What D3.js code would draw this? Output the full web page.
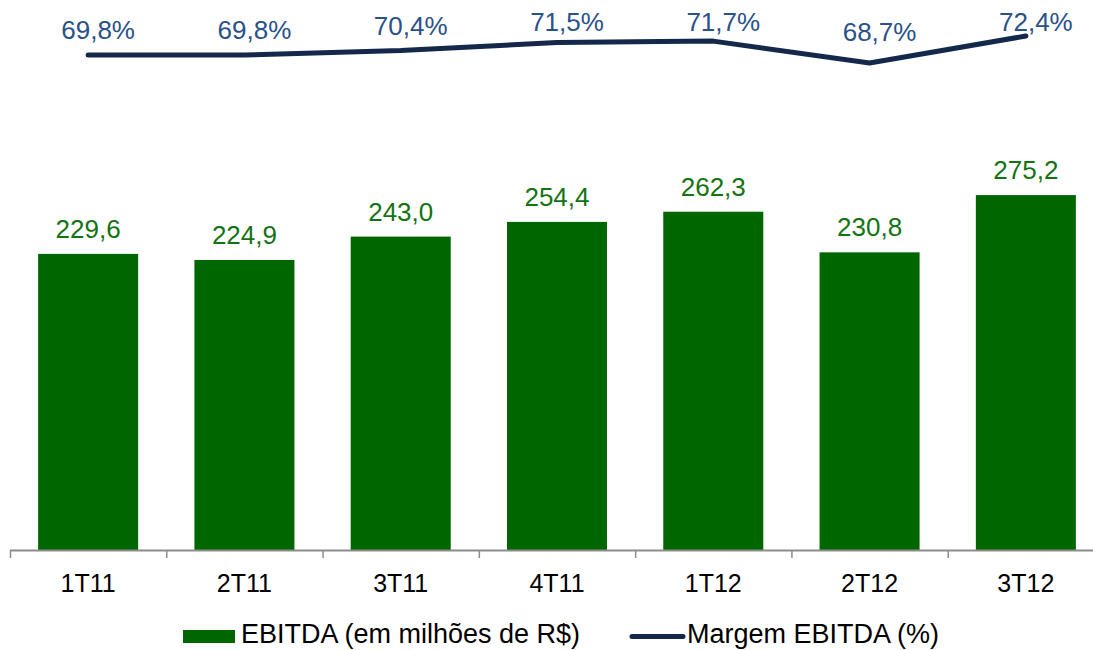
<!DOCTYPE html>
<html>
<head>
<meta charset="utf-8">
<script src="https://cdn.jsdelivr.net/npm/d3@7"></script>
<style>
  body { margin: 0; background: #fff; }
  svg { font-family: "Liberation Sans", Arial, sans-serif; }
</style>
</head>
<body>
<div id="chart"></div>
<script>
var quarters = ["1T11", "2T11", "3T11", "4T11", "1T12", "2T12", "3T12"];
var ebitda = [229.6, 224.9, 243.0, 254.4, 262.3, 230.8, 275.2];
var margem = [69.8, 69.8, 70.4, 71.5, 71.7, 68.7, 72.4];
var legend_labels = ["EBITDA (em milhões de R$)", "Margem EBITDA (%)"];

var width = 1093, height = 650;
var fmt = d => d.toFixed(1).replace(".", ",");

var svg = d3.select("#chart").append("svg")
    .attr("width", width)
    .attr("height", height);

var x = d3.scaleBand(quarters, [10, 1104]).paddingInner(0.36).paddingOuter(0.18);
var y = d3.scaleLinear([0, 300], [550, 163.1]);
var y2 = d3.scaleLinear([68.7, 72.4], [63, 36]);

// bars
svg.selectAll(".bar")
    .data(quarters)
    .enter().append("rect")
    .attr("class", "bar")
    .attr("x", d => x(d))
    .attr("y", (d, i) => y(ebitda[i]))
    .attr("width", x.bandwidth())
    .attr("height", (d, i) => y(0) - y(ebitda[i]))
    .style("fill", "#006600");

svg.selectAll(".barlabel")
    .data(quarters)
    .enter().append("text")
    .attr("class", "barlabel")
    .attr("x", d => x(d) + x.bandwidth() / 2)
    .attr("y", (d, i) => y(ebitda[i]) - 16)
    .attr("text-anchor", "middle")
    .style("font-size", "26px")
    .style("fill", "#137313")
    .text((d, i) => fmt(ebitda[i]));

// axis
var step = x.step();
var axis = svg.append("g");
axis.append("line")
    .attr("x1", 10).attr("x2", width)
    .attr("y1", 550.5).attr("y2", 550.5)
    .style("stroke", "#8c8c8c").style("stroke-width", 2);
axis.selectAll(".tick")
    .data(d3.range(quarters.length + 1))
    .enter().append("line")
    .attr("x1", i => 10.5 + i * step).attr("x2", i => 10.5 + i * step)
    .attr("y1", 550).attr("y2", 558)
    .style("stroke", "#8c8c8c").style("stroke-width", 1.5);
axis.selectAll(".xlabel")
    .data(quarters)
    .enter().append("text")
    .attr("x", d => x(d) + x.bandwidth() / 2)
    .attr("y", 592)
    .attr("text-anchor", "middle")
    .style("font-size", "25px")
    .style("fill", "#000")
    .text(d => d);

// margin line
var cx = d => x(d) + x.bandwidth() / 2;
var line = d3.line()
    .x((d, i) => cx(quarters[i]))
    .y(d => y2(d));
svg.append("path")
    .datum(margem)
    .attr("d", line)
    .style("fill", "none")
    .style("stroke", "#13284a")
    .style("stroke-width", 5)
    .style("stroke-linecap", "round")
    .style("stroke-linejoin", "round");

svg.selectAll(".linelabel")
    .data(margem)
    .enter().append("text")
    .attr("x", (d, i) => cx(quarters[i]) + 10)
    .attr("y", d => Math.max(31, Math.min(y2(d) - 16, 41)))
    .attr("text-anchor", "middle")
    .style("font-size", "26px")
    .style("fill", "#2a5189")
    .text(d => fmt(d) + "%");

// legend
var leg = svg.append("g");
leg.append("rect")
    .attr("x", 183).attr("y", 630)
    .attr("width", 52).attr("height", 13)
    .style("fill", "#006600");
leg.append("text")
    .attr("x", 241).attr("y", 643)
    .style("font-size", "27px")
    .text(legend_labels[0]);
leg.append("line")
    .attr("x1", 632).attr("x2", 683)
    .attr("y1", 636.5).attr("y2", 636.5)
    .style("stroke", "#13284a")
    .style("stroke-width", 5)
    .style("stroke-linecap", "round");
leg.append("text")
    .attr("x", 687).attr("y", 643)
    .style("font-size", "27px")
    .text(legend_labels[1]);
</script>
</body>
</html>
